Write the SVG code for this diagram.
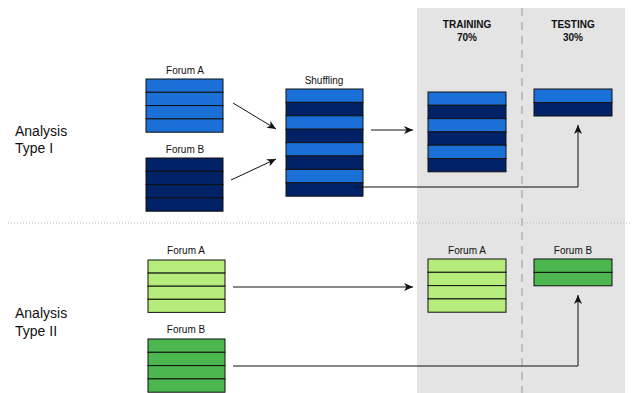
<svg xmlns="http://www.w3.org/2000/svg" width="644" height="393" viewBox="0 0 644 393">
<style>
.lb{fill:#1b70d8}.db{fill:#012266}.lg{fill:#b6ec7b}.dg{fill:#4cb74f}
.row{stroke:#111;stroke-width:1}
.box{fill:none;stroke:#333;stroke-width:1}
.t{font-family:"Liberation Sans",Arial,sans-serif;font-size:10px;fill:#111;text-anchor:middle}
.h{font-family:"Liberation Sans",Arial,sans-serif;font-size:10px;font-weight:bold;fill:#111;text-anchor:middle}
.a{font-family:"Liberation Sans",Arial,sans-serif;font-size:14px;fill:#111}
.c{fill:none;stroke:#111;stroke-width:1}
</style>
<defs>
<marker id="ar" markerWidth="10" markerHeight="8" refX="9" refY="4" orient="auto" markerUnits="userSpaceOnUse">
<path d="M0,0 L9,4 L0,8 L2.5,4 z" fill="#111"/>
</marker>
</defs>
<rect x="417" y="8" width="208" height="385" fill="#e4e4e4"/>
<line x1="522" y1="8" x2="522" y2="393" stroke="#b3b3b3" stroke-width="1.5" stroke-dasharray="8,6"/>
<line x1="8" y1="223" x2="632" y2="223" stroke="#bbb" stroke-width="1" stroke-dasharray="1,2"/>
<g id="panel-labels">
<text class="h" x="467" y="28">TRAINING</text>
<text class="h" x="467" y="41">70%</text>
<text class="h" x="573" y="28">TESTING</text>
<text class="h" x="573" y="41">30%</text>
</g>
<g id="analysis1"><text class="a" x="15" y="136">Analysis</text><text class="a" x="15" y="153">Type I</text></g>
<g id="analysis2"><text class="a" x="15" y="318">Analysis</text><text class="a" x="15" y="336">Type II</text></g>
<g id="forumA1">
<text class="t" x="185" y="74">Forum A</text>
<rect class="lb row" x="146" y="79" width="77" height="13.3"/>
<rect class="lb row" x="146" y="92.3" width="77" height="13.3"/>
<rect class="lb row" x="146" y="105.6" width="77" height="13.3"/>
<rect class="lb row" x="146" y="118.9" width="77" height="13.3"/>
</g>
<g id="forumB1">
<text class="t" x="185" y="153">Forum B</text>
<rect class="db row" x="146" y="158" width="77" height="13.3"/>
<rect class="db row" x="146" y="171.3" width="77" height="13.3"/>
<rect class="db row" x="146" y="184.6" width="77" height="13.3"/>
<rect class="db row" x="146" y="197.9" width="77" height="13.3"/>
</g>
<g id="shuffling">
<text class="t" x="324" y="84">Shuffling</text>
<rect class="lb row" x="286" y="89" width="77" height="13.4"/>
<rect class="db row" x="286" y="102.4" width="77" height="13.4"/>
<rect class="lb row" x="286" y="115.8" width="77" height="13.4"/>
<rect class="db row" x="286" y="129.2" width="77" height="13.4"/>
<rect class="lb row" x="286" y="142.6" width="77" height="13.4"/>
<rect class="db row" x="286" y="156" width="77" height="13.4"/>
<rect class="lb row" x="286" y="169.4" width="77" height="13.4"/>
<rect class="db row" x="286" y="182.8" width="77" height="13.4"/>
</g>
<g id="training1">
<rect class="lb row" x="428" y="92" width="78" height="13.3"/>
<rect class="db row" x="428" y="105.3" width="78" height="13.3"/>
<rect class="lb row" x="428" y="118.6" width="78" height="13.3"/>
<rect class="db row" x="428" y="131.9" width="78" height="13.3"/>
<rect class="lb row" x="428" y="145.2" width="78" height="13.3"/>
<rect class="db row" x="428" y="158.5" width="78" height="13.3"/>
</g>
<g id="testing1">
<rect class="lb row" x="534" y="89" width="78" height="13.5"/>
<rect class="db row" x="534" y="102.5" width="78" height="13.5"/>
</g>
<g id="forumA2">
<text class="t" x="186" y="254">Forum A</text>
<rect class="lg row" x="148" y="260" width="77" height="13.1"/>
<rect class="lg row" x="148" y="273.1" width="77" height="13.1"/>
<rect class="lg row" x="148" y="286.2" width="77" height="13.1"/>
<rect class="lg row" x="148" y="299.3" width="77" height="13.1"/>
</g>
<g id="forumB2">
<text class="t" x="186" y="333">Forum B</text>
<rect class="dg row" x="148" y="339" width="77" height="13.3"/>
<rect class="dg row" x="148" y="352.3" width="77" height="13.3"/>
<rect class="dg row" x="148" y="365.6" width="77" height="13.3"/>
<rect class="dg row" x="148" y="378.9" width="77" height="13.3"/>
</g>
<g id="training2">
<text class="t" x="467" y="254">Forum A</text>
<rect class="lg row" x="428" y="259" width="78" height="13.3"/>
<rect class="lg row" x="428" y="272.3" width="78" height="13.3"/>
<rect class="lg row" x="428" y="285.6" width="78" height="13.3"/>
<rect class="lg row" x="428" y="298.9" width="78" height="13.3"/>
</g>
<g id="testing2">
<text class="t" x="573" y="254">Forum B</text>
<rect class="dg row" x="534" y="259" width="78" height="13.4"/>
<rect class="dg row" x="534" y="272.4" width="78" height="13.4"/>
</g>
<g id="connectors">
<line class="c" x1="233" y1="103" x2="276" y2="129" marker-end="url(#ar)"/>
<line class="c" x1="231" y1="180" x2="276" y2="159" marker-end="url(#ar)"/>
<line class="c" x1="371" y1="130" x2="413" y2="130" marker-end="url(#ar)"/>
<polyline class="c" points="354,187 578,187 578,125" marker-end="url(#ar)"/>
<line class="c" x1="233" y1="287" x2="413" y2="287" marker-end="url(#ar)"/>
<polyline class="c" points="233,366 578,366 578,295" marker-end="url(#ar)"/>
</g>
</svg>
